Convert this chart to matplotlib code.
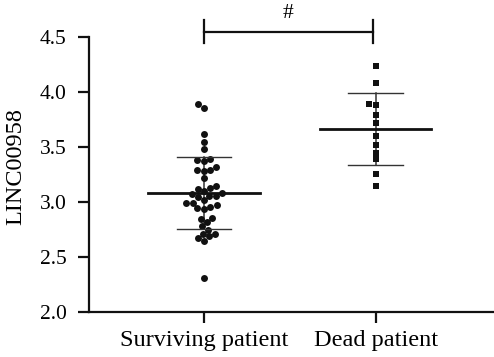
import numpy as np
import matplotlib
matplotlib.use("Agg")
import matplotlib.pyplot as plt

plt.rcParams['font.family'] = ['Liberation Serif', 'DejaVu Serif']

categories = ["Surviving patient", "Dead patient"]
surviving = [3.89, 3.86, 3.62, 3.55, 3.48, 3.37, 3.39, 3.38, 3.32, 3.29,
             3.28, 3.29, 3.22, 3.15, 3.12, 3.10, 3.13, 3.06, 3.07, 3.08,
             3.06, 3.05, 3.02, 2.99, 2.99, 2.96, 2.94, 2.97, 2.95, 2.85,
             2.86, 2.82, 2.78, 2.75, 2.71, 2.71, 2.69, 2.67, 2.65, 2.31]
dead = [4.24, 4.08, 3.89, 3.88, 3.79, 3.72, 3.60, 3.52, 3.45, 3.39, 3.26, 3.15]
yticks = [2.0, 2.5, 3.0, 3.5, 4.0, 4.5]
sig_label = "#"

W, H, DPI = 494, 357, 100
fig = plt.figure(figsize=(W / DPI, H / DPI), dpi=DPI)
ax = fig.add_axes([89 / W, 45 / H, 1 - 89 / W, (312 - 37.3) / H])
ax.set_xlim(-0.67, 1.69)
ax.set_ylim(2.0, 4.5)

def swarm(vals, pos, diam_px):
    # simple beeswarm in pixel space
    vals = np.asarray(vals, float)
    p0 = ax.transData.transform([(pos, v) for v in vals])
    order = np.argsort(vals)
    placed = []
    xs = np.zeros(len(vals))
    for i in order:
        y = p0[i, 1]
        cands = [0.0]
        for (px, py) in placed:
            dy = abs(py - y)
            if dy < diam_px:
                dx = np.sqrt(diam_px ** 2 - dy ** 2)
                cands += [px + dx, px - dx]
        cands = sorted(set(cands), key=lambda c: (abs(c), c))
        for c in cands:
            ok = all((c - px) ** 2 + (y - py) ** 2 >= diam_px ** 2 - 1e-6 for px, py in placed)
            if ok:
                break
        placed.append((c, y))
        xs[i] = c
    pts = np.column_stack([p0[:, 0] + xs, p0[:, 1]])
    return ax.transData.inverted().transform(pts)[:, 0], vals

col = '#111111'
groups = [(surviving, 'o', 25, 6.6), (dead, 's', 20, 6.2)]
for i, (vals, mk, s, d) in enumerate(groups):
    xs, ys = swarm(vals, i, d)
    ax.scatter(xs, ys, marker=mk, s=s, color=col, linewidths=0, zorder=3)
    m = np.mean(vals)
    sd = np.std(vals, ddof=1)
    ax.plot([i, i], [m - sd, m + sd], color='#333333', lw=1.1, zorder=2)
    ax.plot([i - 0.16, i + 0.16], [m + sd, m + sd], color='#333333', lw=1.0, zorder=4)
    ax.plot([i - 0.16, i + 0.16], [m - sd, m - sd], color='#333333', lw=1.0, zorder=4)
    ax.plot([i - 0.325, i + 0.325], [m, m], color='#111111', lw=2.0, zorder=4)

# significance bracket
ax.plot([0, 0.985], [4.548, 4.548], color='#111111', lw=1.6, clip_on=False)
ax.plot([0, 0], [4.445, 4.66], color='#111111', lw=1.6, clip_on=False)
ax.plot([0.985, 0.985], [4.445, 4.66], color='#111111', lw=1.6, clip_on=False)
ax.text(0.49, 4.72, sig_label, ha='center', va='center', fontsize=15.5)

ax.set_xticks([0, 1])
ax.set_xticklabels(categories, fontsize=17.5)
ax.set_yticks(yticks)
ax.set_yticklabels([f"{t:.1f}" for t in yticks], fontsize=15.5)
ax.set_ylabel("LINC00958", fontsize=17.5)
ax.yaxis.set_label_coords(-0.155, 0.53)
for sp in ['top', 'right']:
    ax.spines[sp].set_visible(False)
for sp in ['left', 'bottom']:
    ax.spines[sp].set_linewidth(1.6)
    ax.spines[sp].set_color('#111111')
ax.tick_params(axis='both', width=1.6, length=8, color='#111111')
ax.tick_params(axis='y', pad=8)
ax.tick_params(axis='x', pad=5)

fig.savefig("out.png", dpi=DPI)
